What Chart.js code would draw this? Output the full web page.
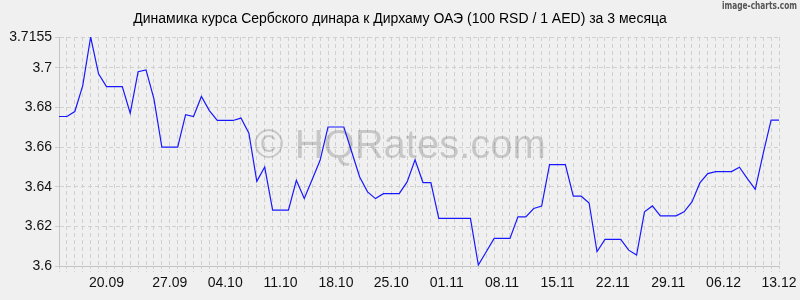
<!DOCTYPE html>
<html>
<head>
<meta charset="utf-8">
<script src="https://cdn.jsdelivr.net/npm/chart.js@4/dist/chart.umd.min.js"></script>
<style>
  html, body { margin: 0; padding: 0; background: #f0f0f0; }
  #wrap { width: 800px; height: 300px; }
</style>
</head>
<body>
<div id="wrap"><canvas id="rateChart" width="800" height="300"></canvas></div>
<script>
const chartTitle = "Динамика курса Сербского динара к Дирхаму ОАЭ (100 RSD / 1 AED) за 3 месяца";
const watermark = "© HQRates.com";
const brand = "image-charts.com";

// one value per day, 100 RSD in AED
const rates = [
  3.6754, 3.6754, 3.6779, 3.6910, 3.7155, 3.6969, 3.6905, 3.6905, 3.6905, 3.6771,
  3.6980, 3.6989, 3.6843, 3.6600, 3.6600, 3.6600, 3.6763, 3.6754, 3.6855, 3.6784,
  3.6734, 3.6734, 3.6734, 3.6746, 3.6670, 3.6427, 3.6499, 3.6282, 3.6282, 3.6282,
  3.6432, 3.6340, 3.6436, 3.6533, 3.6701, 3.6701, 3.6701, 3.6575, 3.6449, 3.6374,
  3.6340, 3.6365, 3.6365, 3.6365, 3.6424, 3.6536, 3.6421, 3.6421, 3.6240, 3.6240,
  3.6240, 3.6240, 3.6240, 3.6005, 3.6072, 3.6139, 3.6139, 3.6139, 3.6248, 3.6248,
  3.6290, 3.6302, 3.6511, 3.6511, 3.6511, 3.6352, 3.6352, 3.6318, 3.6072, 3.6134,
  3.6134, 3.6134, 3.6080, 3.6055, 3.6273, 3.6303, 3.6253, 3.6253, 3.6253, 3.6273,
  3.6323, 3.6419, 3.6466, 3.6476, 3.6476, 3.6476, 3.6498, 3.6441, 3.6387, 3.6567,
  3.6736, 3.6736
];

const dateTicks = ["20.09", "27.09", "04.10", "11.10", "18.10", "25.10", "01.11",
  "08.11", "15.11", "22.11", "29.11", "06.12", "13.12"];
const dateTickIndex = [6, 14, 21, 28, 35, 42, 49, 56, 63, 70, 77, 84, 91];

const yTicks = [3.6, 3.62, 3.64, 3.66, 3.68, 3.7, 3.7155];

const labels = rates.map((_, i) => {
  const k = dateTickIndex.indexOf(i);
  return k >= 0 ? dateTicks[k] : "";
});

const gridColor = "#d0d0d0";
const fontFamily = "'Liberation Sans', Arial, sans-serif";

const decorPlugin = {
  id: "decor",
  beforeDraw(chart) {
    const ctx = chart.ctx;
    ctx.save();
    ctx.fillStyle = "#f0f0f0";
    ctx.fillRect(0, 0, chart.width, chart.height);
    ctx.restore();
  },
  beforeDatasetsDraw(chart) {
    // watermark sits under the line
    const ctx = chart.ctx;
    ctx.save();
    ctx.font = "40px " + fontFamily;
    ctx.fillStyle = "rgba(0,0,0,0.17)";
    ctx.textAlign = "center";
    ctx.textBaseline = "alphabetic";
    ctx.fillText(watermark, 400, 158);
    ctx.restore();
  },
  afterDraw(chart) {
    const ctx = chart.ctx;
    ctx.save();
    ctx.fillStyle = "#000";
    ctx.font = "14px " + fontFamily;
    ctx.textAlign = "center";
    ctx.textBaseline = "middle";
    ctx.fillText(chartTitle, 400, 19);

    ctx.fillStyle = "#555";
    ctx.font = "bold 10px 'DejaVu Sans Condensed', 'DejaVu Sans', sans-serif";
    ctx.textAlign = "right";
    ctx.textBaseline = "top";
    ctx.fillText(brand, 797, 1, 75);
    ctx.restore();
  }
};

new Chart(document.getElementById("rateChart"), {
  type: "line",
  data: {
    labels: labels,
    datasets: [{
      data: rates,
      borderColor: "#1818ff",
      borderWidth: 1.2,
      pointRadius: 0,
      tension: 0,
      fill: false
    }]
  },
  options: {
    responsive: false,
    animation: false,
    layout: { padding: { top: 37, right: 21, left: 0, bottom: 0 } },
    plugins: {
      legend: { display: false },
      title: { display: false },
      tooltip: { enabled: false }
    },
    scales: {
      x: {
        type: "category",
        offset: false,
        afterFit: (s) => { s.height = 34; },
        grid: {
          color: gridColor,
          tickLength: 6,
          tickBorderDash: [2, 2]
        },
        border: { display: true, color: "#c4c4c4", dash: [4, 3] },
        ticks: {
          autoSkip: false,
          maxRotation: 0,
          padding: 3,
          color: "#111",
          font: { family: fontFamily, size: 14 }
        }
      },
      y: {
        min: 3.6,
        max: 3.7155,
        afterFit: (s) => { s.width = 59; },
        afterBuildTicks: (s) => { s.ticks = yTicks.map(v => ({ value: v })); },
        grid: {
          color: gridColor,
          tickLength: 4
        },
        border: { display: true, color: "#c4c4c4", dash: [4, 3] },
        ticks: {
          padding: 3,
          color: "#111",
          font: { family: fontFamily, size: 14 },
          callback: (v) => String(+Number(v).toFixed(4))
        }
      }
    }
  },
  plugins: [decorPlugin]
});
</script>
</body>
</html>
